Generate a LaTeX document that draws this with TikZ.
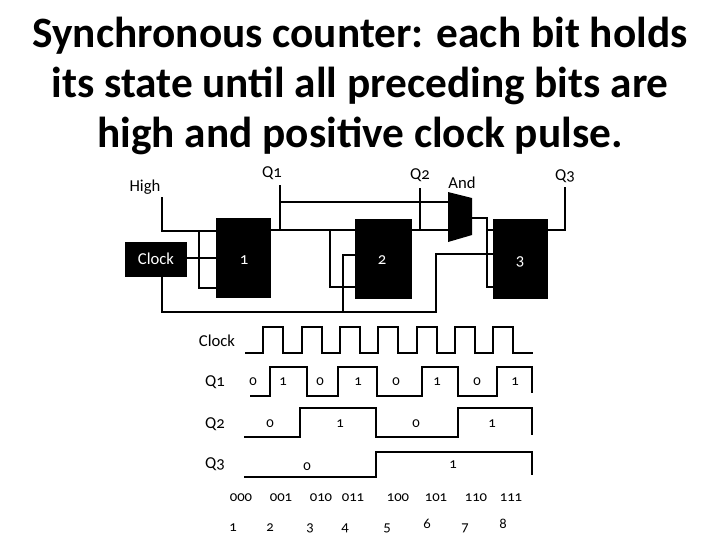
\documentclass[tikz,border=0pt]{standalone}
\usepackage{fontspec}
\setmainfont{Carlito}[Numbers=OldStyle]
\begin{document}
\begin{tikzpicture}[x=0.75pt,y=-0.75pt,line width=2.2pt,
  blk/.style={fill=black,draw=black},
  lab/.style={font=\fontsize{12.5}{14}\selectfont},
  wl/.style={font=\fontsize{11}{12}\selectfont},
  sig/.style={line width=2pt,line join=miter}]
\useasboundingbox (0,0) rectangle (720,540);
\node[align=center,font=\bfseries\fontsize{32.5}{37.5}\selectfont] (title) at (360,86) {Synchronous counter: each bit holds\\its state until all preceding bits are\\high and positive clock pulse.};
% blocks
\fill (216,218) rectangle (271,298); \node[white,lab] (b1) at (244,260) {1};
\fill (355,219) rectangle (412,299); \node[white,lab] (b2) at (382,260) {2};
\fill (493,219) rectangle (548,299); \node[white,lab] (b3) at (520,262) {3};
\fill (125,242) rectangle (187,277); \node[white,lab] (clk) at (156,259) {Clock};
\fill (448,192) -- (472,198) -- (472,235) -- (448,242) -- cycle;
\node[lab] (high) at (145,187) {High};
\node[lab] (q1) at (272,173) {Q1};
\node[lab] (q2) at (420,175) {Q2};
\node[lab] (and) at (462,183) {And};
\node[lab] (q3) at (565,176) {Q3};
% wires
\draw (162,197) -- (162,231) -- (216,231);
\draw (199,231) -- (199,288) -- (216,288);
\draw (187,258) -- (216,258);
\draw (162,277) -- (162,312) -- (436,312) -- (436,254) -- (493,254);
\draw (343,312) -- (343,255) -- (355,255);
\draw (271,230) -- (355,230);
\draw (330,230) -- (330,287) -- (355,287);
\draw (280,185) -- (280,230);
\draw (280,202) -- (448,202);
\draw (412,230) -- (448,230);
\draw (420,188) -- (420,230);
\draw (472,218) -- (487,218) -- (487,287) -- (493,287);
\draw (487,230) -- (493,230);
\draw (548,230) -- (565,230) -- (565,187);
% timing
\node[lab] (tc) at (217,341) {Clock};
\node[lab] (t1) at (215,382) {Q1};
\node[lab] (t2) at (215,424) {Q2};
\node[lab] (t3) at (215,464) {Q3};
\draw[sig] (245,353) -- (263,353) -- (263,327) -- (283,327) -- (283,353)
 -- (302,353) -- (302,327) -- (322,327) -- (322,353)
 -- (340,353) -- (340,327) -- (360,327) -- (360,353)
 -- (378,353) -- (378,327) -- (398,327) -- (398,353)
 -- (417,353) -- (417,327) -- (437,327) -- (437,353)
 -- (455,353) -- (455,327) -- (475,327) -- (475,353)
 -- (493,353) -- (493,327) -- (513,327) -- (513,353) -- (533,353);
\draw[sig] (250,396) -- (270,396) -- (270,367) -- (307,367) -- (307,396)
 -- (338,396) -- (338,367) -- (377,367) -- (377,396)
 -- (422,396) -- (422,367) -- (458,367) -- (458,396)
 -- (497,396) -- (497,367) -- (532,367) -- (532,393);
\draw[sig] (244,437) -- (300,437) -- (300,408) -- (376,408) -- (376,437)
 -- (458,437) -- (458,408) -- (532,408) -- (532,435);
\draw[sig] (244,477) -- (376,477) -- (376,452) -- (532,452) -- (532,475);
\foreach \x/\v in {253/0,283/1,320/0,358/1,396/0,437/1,477/0,515/1}
  \node[wl] at (\x,382) {\v};
\foreach \x/\v in {270/0,340/1,416/0,492/1} \node[wl] at (\x,424) {\v};
\node[wl] at (307,467) {0}; \node[wl] at (453,465) {1};
\foreach \x/\v in {241/000,281/001,321/010,353/011,398/100,436/101,476/110,511/111}
  \node[wl] at (\x,498) {\v};
\foreach \x/\y/\v in {233/528/1,270/528/2,310/528/3,345/528/4,387/528/5,427/524/6,465/528/7,503/524/8}
  \node[wl] at (\x,\y) {\v};
\end{tikzpicture}
\end{document}
